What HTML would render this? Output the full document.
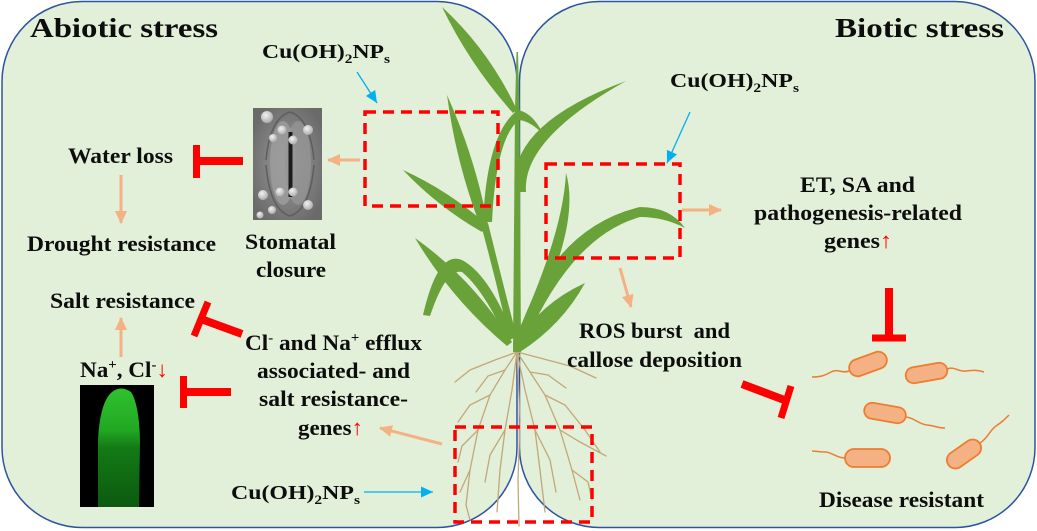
<!DOCTYPE html>
<html><head><meta charset="utf-8"><style>
html,body{margin:0;padding:0;background:#fff;}
svg{display:block;}
text{font-family:"Liberation Serif",serif;font-weight:bold;fill:#0d0d0d;}
</style></head><body>
<svg width="1037" height="531" viewBox="0 0 1037 531" xmlns="http://www.w3.org/2000/svg">
<defs>
<marker id="ao" markerUnits="userSpaceOnUse" markerWidth="14" markerHeight="14" refX="12" refY="7" orient="auto"><path d="M0,1 L13,7 L0,13 Z" fill="#f4b183"/></marker>
<marker id="ab" markerUnits="userSpaceOnUse" markerWidth="13" markerHeight="11" refX="12" refY="5.5" orient="auto"><path d="M0,0 L12,5.5 L0,11 Z" fill="#00b0f0"/></marker>
<radialGradient id="stg" cx="0.5" cy="0.5" r="0.6"><stop offset="0" stop-color="#9c9c9c"/><stop offset="1" stop-color="#6a6a6a"/></radialGradient>
<radialGradient id="bulb" cx="0.4" cy="0.35" r="0.7"><stop offset="0" stop-color="#f2f2f2"/><stop offset="1" stop-color="#a8a8a8"/></radialGradient>
<linearGradient id="rootg" x1="0" y1="0" x2="0" y2="1"><stop offset="0" stop-color="#2fc22f"/><stop offset="0.35" stop-color="#22a822"/><stop offset="0.5" stop-color="#137a15"/><stop offset="1" stop-color="#0c5a0f"/></linearGradient>
</defs>

<!-- panels -->
<rect x="2" y="1.5" width="515" height="526" rx="80" ry="80" fill="#e2efd9" stroke="#2e54a1" stroke-width="1.5"/>
<rect x="519.5" y="1.5" width="515.5" height="526" rx="80" ry="80" fill="#e2efd9" stroke="#2e54a1" stroke-width="1.5"/>

<!-- roots -->
<g fill="none" stroke="#c2a877" stroke-width="1.3" stroke-linecap="round">
<polyline points="517,352 505,370 490,395 478,430 470,470 466,505"/>
<polyline points="517,352 530,372 545,395 560,430 572,470 580,500"/>
<polyline points="517,352 495,360 470,370 455,382"/>
<polyline points="517,352 540,358 570,366 596,378"/>
<polyline points="517,352 512,390 505,430 500,470 497,512"/>
<polyline points="517,352 525,390 535,430 540,470 545,512"/>
<polyline points="490,395 470,405 458,422"/>
<polyline points="478,430 462,446 458,462"/>
<polyline points="545,395 565,405 585,430 600,452"/>
<polyline points="560,430 580,442 606,456"/>
<polyline points="505,430 490,455 485,482"/>
<polyline points="535,430 550,460 556,492"/>
<polyline points="470,470 460,492"/>
<polyline points="517,352 520,420 518,480 519,526"/>
<polyline points="530,372 548,375 566,388"/>
<polyline points="505,370 488,376 476,392"/>
<polyline points="572,470 588,482 592,500"/>
<polyline points="466,505 470,520"/>
</g>

<!-- plant -->
<g fill="#6aa23a">
<path d="M513,352 L521,352 L519.5,110 L518,52 L516.5,52 L515,110 Z"/>
<path d="M517,110 Q489,50 442,7 Q470,65 513,113 Z"/>
<path d="M509,338 Q496,280 481,225 L488,223 Q502,280 517,338 Z"/>
<path d="M488,225 Q475,157 447,95 Q456,163 481,228 Z"/>
<path d="M486,224 Q449,191 403,170 Q438,207 482,232 Z"/>
<path d="M483,222 Q487,132 518,110 Q533,113 543,134 Q530,121 519,120 Q496,138 492,222 Z"/>
<path d="M515,192 Q506,125 626,81 Q522,139 526,192 Z"/>
<path d="M512,342 Q474,280 415,238 Q452,300 507,346 Z"/>
<path d="M423,315 Q438,250 462,260 Q490,275 514,338 L507,341 Q484,290 462,272 Q446,268 430,316 Z"/>
<path d="M516,336 Q563,234 566,173 Q582,228 524,338 Z"/>
<path d="M517,338 Q552,228 640,207 Q670,207 685,228 Q664,217 640,217 Q572,236 526,341 Z"/>
<path d="M516,343 Q541,303 585,283 Q562,325 520,352 Z"/>
</g>

<!-- dashed boxes -->
<g fill="none" stroke="#ff0000" stroke-width="3.5" stroke-dasharray="11 7">
<rect x="365" y="112" width="133" height="94"/>
<rect x="546" y="164" width="134" height="94"/>
<rect x="455" y="427" width="137" height="95"/>
</g>

<!-- blue arrows -->
<g stroke="#00b0f0" stroke-width="1.3" fill="none">
<line x1="357" y1="72" x2="377" y2="103" marker-end="url(#ab)"/>
<line x1="690" y1="112" x2="667" y2="163" marker-end="url(#ab)"/>
<line x1="364" y1="492" x2="433" y2="492" marker-end="url(#ab)"/>
</g>

<!-- orange arrows -->
<g stroke="#f4b183" stroke-width="3" fill="none">
<line x1="360" y1="160" x2="328" y2="160" marker-end="url(#ao)"/>
<line x1="121" y1="175" x2="121" y2="223" marker-end="url(#ao)"/>
<line x1="121" y1="357" x2="121" y2="318" marker-end="url(#ao)"/>
<line x1="442" y1="444" x2="380" y2="428" marker-end="url(#ao)"/>
<line x1="682" y1="210" x2="721" y2="210" marker-end="url(#ao)"/>
<line x1="620" y1="268" x2="631" y2="307" marker-end="url(#ao)"/>
</g>

<!-- red inhibition bars -->
<g stroke="#ff0000" fill="none">
<line x1="243" y1="161" x2="197" y2="161" stroke-width="8"/>
<line x1="196.5" y1="145" x2="196.5" y2="178" stroke-width="7"/>
<line x1="242" y1="334" x2="201" y2="319" stroke-width="8"/>
<line x1="208" y1="302" x2="194" y2="336" stroke-width="7"/>
<line x1="231" y1="392" x2="184" y2="392" stroke-width="8"/>
<line x1="183.5" y1="376" x2="183.5" y2="408" stroke-width="7"/>
<line x1="742" y1="384" x2="787" y2="401" stroke-width="8"/>
<line x1="791" y1="386" x2="781" y2="418" stroke-width="7"/>
<line x1="889" y1="288" x2="889" y2="338" stroke-width="8"/>
<line x1="872" y1="338" x2="906" y2="338" stroke-width="7"/>
</g>

<!-- stomata image -->
<g>
<rect x="253" y="108" width="69" height="112" fill="url(#stg)"/>
<ellipse cx="283" cy="163" rx="13" ry="42" fill="#9d9d9d" opacity="0.8"/>
<ellipse cx="298" cy="163" rx="13" ry="42" fill="#959595" opacity="0.8"/>
<path d="M266,160 Q270,118 290,112 M314,160 Q310,118 290,112 M266,165 Q270,210 290,216 M314,165 Q310,210 290,216" stroke="#5e5e5e" stroke-width="1.5" fill="none"/>
<rect x="288.5" y="132" width="4" height="65" fill="#1c1c1c"/>
<g fill="url(#bulb)">
<circle cx="267" cy="117" r="6"/><circle cx="282" cy="130" r="4.5"/><circle cx="293" cy="140" r="4.5"/><circle cx="308" cy="130" r="5"/><circle cx="273" cy="138" r="4"/>
<circle cx="263" cy="195" r="5"/><circle cx="280" cy="192" r="4.5"/><circle cx="293" cy="192" r="4.5"/><circle cx="308" cy="205" r="5"/><circle cx="272" cy="210" r="4"/><circle cx="260" cy="215" r="3.5"/>
</g>
</g>

<!-- root fluorescence image -->
<g>
<rect x="80" y="385" width="74" height="122" fill="#000"/>
<path d="M98,507 L98,440 Q100,402 112,392 Q121,385 131,392 Q139,404 140,440 L139,507 Z" fill="url(#rootg)"/>
</g>

<!-- bacteria -->
<g fill="none" stroke="#ed7d31" stroke-width="1.5">
<path d="M849,371 C842,374 838,368 831,372 S820,377 812,377"/>
<path d="M947,369 C955,366 958,372 966,371 S978,370 984,372"/>
<path d="M906,417 C915,418 918,424 927,425 S938,428 945,428"/>
<path d="M845,458 C836,458 832,452 825,452 S816,451 812,451"/>
<path d="M980,443 C988,438 990,430 996,426 S1004,420 1009,415"/>
</g>
<g fill="#f4b183" stroke="#ed7d31" stroke-width="1.8">
<rect x="-19.5" y="-8.5" width="39" height="17" rx="8.5" transform="translate(868,364) rotate(-20)"/>
<rect x="-21" y="-8" width="42" height="16" rx="8" transform="translate(926.5,373) rotate(-10)"/>
<rect x="-21" y="-8" width="42" height="16" rx="8" transform="translate(885,413) rotate(10)"/>
<rect x="-22.5" y="-9" width="45" height="18" rx="9" transform="translate(867.5,458)"/>
<rect x="-19" y="-8.5" width="38" height="17" rx="8.5" transform="translate(964,454) rotate(-35)"/>
</g>

<!-- text -->
<text x="30" y="37" font-size="27" textLength="188" lengthAdjust="spacingAndGlyphs">Abiotic stress</text>
<text x="835" y="37" font-size="27" textLength="169" lengthAdjust="spacingAndGlyphs">Biotic stress</text>

<text x="262" y="58" font-size="20" textLength="128" lengthAdjust="spacingAndGlyphs">Cu(OH)<tspan font-size="13" dy="5">2</tspan><tspan dy="-5">NP</tspan><tspan font-size="13" dy="5">s</tspan></text>
<text x="670" y="87" font-size="20" textLength="129" lengthAdjust="spacingAndGlyphs">Cu(OH)<tspan font-size="13" dy="5">2</tspan><tspan dy="-5">NP</tspan><tspan font-size="13" dy="5">s</tspan></text>
<text x="231" y="499" font-size="20" textLength="129" lengthAdjust="spacingAndGlyphs">Cu(OH)<tspan font-size="13" dy="5">2</tspan><tspan dy="-5">NP</tspan><tspan font-size="13" dy="5">s</tspan></text>

<text x="68" y="163" font-size="22" textLength="105" lengthAdjust="spacingAndGlyphs">Water loss</text>
<text x="27" y="251" font-size="22" textLength="189" lengthAdjust="spacingAndGlyphs">Drought resistance</text>
<text x="245" y="249" font-size="22" textLength="91" lengthAdjust="spacingAndGlyphs">Stomatal</text>
<text x="256" y="277" font-size="22" textLength="70" lengthAdjust="spacingAndGlyphs">closure</text>
<text x="50" y="308" font-size="22" textLength="145" lengthAdjust="spacingAndGlyphs">Salt resistance</text>
<text x="80" y="377" font-size="22" textLength="88" lengthAdjust="spacingAndGlyphs">Na<tspan font-size="14" dy="-8">+</tspan><tspan dy="8">, Cl</tspan><tspan font-size="14" dy="-8">-</tspan><tspan dy="8" fill="#ff0000" font-weight="normal">↓</tspan></text>
<text x="245" y="350" font-size="22" textLength="177" lengthAdjust="spacingAndGlyphs">Cl<tspan font-size="14" dy="-8">-</tspan><tspan dy="8"> and Na</tspan><tspan font-size="14" dy="-8">+</tspan><tspan dy="8"> efflux</tspan></text>
<text x="257" y="378" font-size="22" textLength="153" lengthAdjust="spacingAndGlyphs">associated- and</text>
<text x="259" y="406" font-size="22" textLength="149" lengthAdjust="spacingAndGlyphs">salt resistance-</text>
<text x="298" y="435" font-size="22" textLength="65" lengthAdjust="spacingAndGlyphs">genes<tspan fill="#ff0000" font-weight="normal">↑</tspan></text>

<text x="800" y="192" font-size="22" textLength="115" lengthAdjust="spacingAndGlyphs">ET, SA and</text>
<text x="754" y="220" font-size="22" textLength="208" lengthAdjust="spacingAndGlyphs">pathogenesis-related</text>
<text x="824" y="248" font-size="22" textLength="68" lengthAdjust="spacingAndGlyphs">genes<tspan fill="#ff0000" font-weight="normal">↑</tspan></text>
<text x="579" y="338" font-size="22" textLength="151" lengthAdjust="spacingAndGlyphs">ROS burst&#160; and</text>
<text x="567" y="367" font-size="22" textLength="175" lengthAdjust="spacingAndGlyphs">callose deposition</text>
<text x="819" y="507" font-size="22" textLength="165" lengthAdjust="spacingAndGlyphs">Disease resistant</text>
</svg>
</body></html>
